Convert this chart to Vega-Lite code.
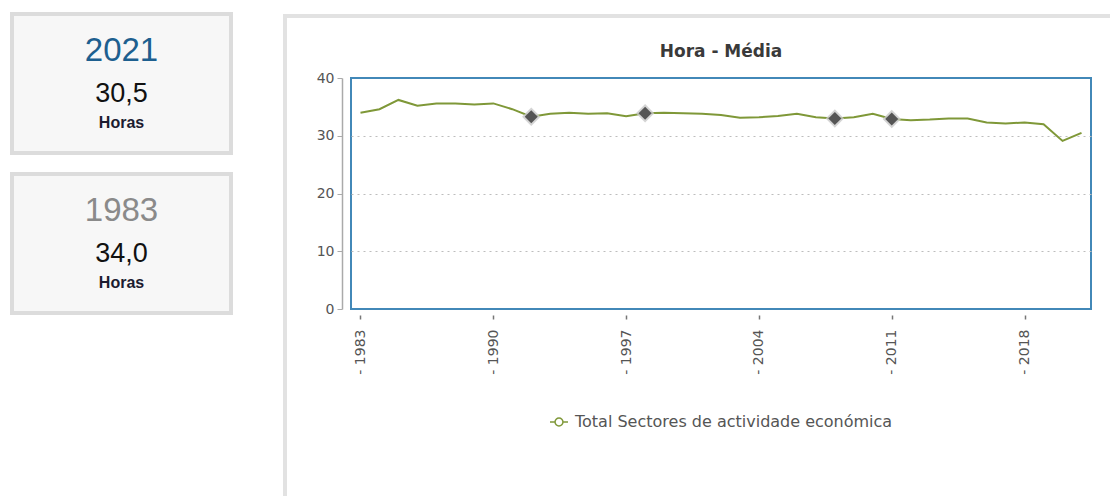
{
  "$schema": "https://vega.github.io/schema/vega-lite/v6.json",
  "padding": {"left": 10, "top": 12, "right": 0, "bottom": 0},
  "background": "white",
  "spacing": 50,
  "config": {"view": {"stroke": null}, "legend": {"layout": {"bottom": {"anchor": "middle"}}}},
  "resolve": {"scale": {"color": "independent"}, "legend": {"color": "independent"}},
  "hconcat": [
    {
      "spacing": 17,
      "vconcat": [
        {
          "width": 219, "height": 139,
          "view": {"fill": "#f7f7f7", "stroke": "#dcdcdc", "strokeWidth": 4},
          "data": {"values": [
            {"papel": "ano", "texto": "2021"},
            {"papel": "valor", "texto": "30,5"},
            {"papel": "unidade", "texto": "Horas"}
          ]},
          "encoding": {
            "y": {"field": "papel", "type": "nominal", "scale": {"type": "point", "domain": ["ano", "e1", "e2", "valor", "e3", "unidade"], "range": [37, 109], "padding": 0}, "axis": null},
            "text": {"field": "texto"}
          },
          "layer": [
            {"transform": [{"filter": "datum.papel === 'ano'"}], "mark": {"type": "text", "font": "Liberation Sans", "fontSize": 33, "color": "#1d5f8f", "baseline": "middle", "align": "center"}},
            {"transform": [{"filter": "datum.papel === 'valor'"}], "mark": {"type": "text", "font": "Liberation Sans", "fontSize": 27, "color": "#111111", "baseline": "middle", "align": "center"}},
            {"transform": [{"filter": "datum.papel === 'unidade'"}], "mark": {"type": "text", "font": "Liberation Sans", "fontSize": 16, "fontWeight": "bold", "color": "#1c1c30", "baseline": "middle", "align": "center"}}
          ]
        },
        {
          "width": 219, "height": 139,
          "view": {"fill": "#f7f7f7", "stroke": "#dcdcdc", "strokeWidth": 4},
          "data": {"values": [
            {"papel": "ano", "texto": "1983"},
            {"papel": "valor", "texto": "34,0"},
            {"papel": "unidade", "texto": "Horas"}
          ]},
          "encoding": {
            "y": {"field": "papel", "type": "nominal", "scale": {"type": "point", "domain": ["ano", "e1", "e2", "valor", "e3", "unidade"], "range": [37, 109], "padding": 0}, "axis": null},
            "text": {"field": "texto"}
          },
          "layer": [
            {"transform": [{"filter": "datum.papel === 'ano'"}], "mark": {"type": "text", "font": "Liberation Sans", "fontSize": 33, "color": "#8a8a8a", "baseline": "middle", "align": "center"}},
            {"transform": [{"filter": "datum.papel === 'valor'"}], "mark": {"type": "text", "font": "Liberation Sans", "fontSize": 27, "color": "#111111", "baseline": "middle", "align": "center"}},
            {"transform": [{"filter": "datum.papel === 'unidade'"}], "mark": {"type": "text", "font": "Liberation Sans", "fontSize": 16, "fontWeight": "bold", "color": "#1c1c30", "baseline": "middle", "align": "center"}}
          ]
        }
      ]
    },
    {
      "spacing": 0,
      "resolve": {"scale": {"color": "independent"}, "legend": {"color": "independent"}},
      "hconcat": [
        {
          "width": 4, "height": 484,
          "view": {"fill": "#e2e2e2", "stroke": null},
          "data": {"values": []},
          "mark": "point"
        },
        {
          "spacing": 24,
          "resolve": {"scale": {"color": "independent"}, "legend": {"color": "independent"}},
          "vconcat": [
            {
              "width": 823, "height": 4,
              "view": {"fill": "#e2e2e2", "stroke": null},
              "data": {"values": []},
              "mark": "point"
            },
            {
              "spacing": 0,
              "resolve": {"scale": {"color": "independent"}, "legend": {"color": "independent"}},
              "hconcat": [
                {
                  "width": 28, "height": 10,
                  "data": {"values": []},
                  "mark": "point"
                },
                {
                  "width": 740, "height": 231,
                  "title": {"text": "Hora - Média", "font": "DejaVu Sans", "fontSize": 17, "fontWeight": "bold", "color": "#3a3a3a", "offset": 10},
                  "view": {"stroke": "#4288b8", "strokeWidth": 2},
                  "data": {"values": [
                    {"ano": 1983, "horas": 34.0, "serie": "Total Sectores de actividade económica", "quebra": false},
                    {"ano": 1984, "horas": 34.6, "serie": "Total Sectores de actividade económica", "quebra": false},
                    {"ano": 1985, "horas": 36.2, "serie": "Total Sectores de actividade económica", "quebra": false},
                    {"ano": 1986, "horas": 35.2, "serie": "Total Sectores de actividade económica", "quebra": false},
                    {"ano": 1987, "horas": 35.6, "serie": "Total Sectores de actividade económica", "quebra": false},
                    {"ano": 1988, "horas": 35.6, "serie": "Total Sectores de actividade económica", "quebra": false},
                    {"ano": 1989, "horas": 35.4, "serie": "Total Sectores de actividade económica", "quebra": false},
                    {"ano": 1990, "horas": 35.6, "serie": "Total Sectores de actividade económica", "quebra": false},
                    {"ano": 1991, "horas": 34.6, "serie": "Total Sectores de actividade económica", "quebra": false},
                    {"ano": 1992, "horas": 33.3, "serie": "Total Sectores de actividade económica", "quebra": true},
                    {"ano": 1993, "horas": 33.8, "serie": "Total Sectores de actividade económica", "quebra": false},
                    {"ano": 1994, "horas": 34.0, "serie": "Total Sectores de actividade económica", "quebra": false},
                    {"ano": 1995, "horas": 33.8, "serie": "Total Sectores de actividade económica", "quebra": false},
                    {"ano": 1996, "horas": 33.9, "serie": "Total Sectores de actividade económica", "quebra": false},
                    {"ano": 1997, "horas": 33.4, "serie": "Total Sectores de actividade económica", "quebra": false},
                    {"ano": 1998, "horas": 33.9, "serie": "Total Sectores de actividade económica", "quebra": true},
                    {"ano": 1999, "horas": 34.0, "serie": "Total Sectores de actividade económica", "quebra": false},
                    {"ano": 2000, "horas": 33.9, "serie": "Total Sectores de actividade económica", "quebra": false},
                    {"ano": 2001, "horas": 33.8, "serie": "Total Sectores de actividade económica", "quebra": false},
                    {"ano": 2002, "horas": 33.6, "serie": "Total Sectores de actividade económica", "quebra": false},
                    {"ano": 2003, "horas": 33.1, "serie": "Total Sectores de actividade económica", "quebra": false},
                    {"ano": 2004, "horas": 33.2, "serie": "Total Sectores de actividade económica", "quebra": false},
                    {"ano": 2005, "horas": 33.4, "serie": "Total Sectores de actividade económica", "quebra": false},
                    {"ano": 2006, "horas": 33.8, "serie": "Total Sectores de actividade económica", "quebra": false},
                    {"ano": 2007, "horas": 33.2, "serie": "Total Sectores de actividade económica", "quebra": false},
                    {"ano": 2008, "horas": 33.0, "serie": "Total Sectores de actividade económica", "quebra": true},
                    {"ano": 2009, "horas": 33.2, "serie": "Total Sectores de actividade económica", "quebra": false},
                    {"ano": 2010, "horas": 33.8, "serie": "Total Sectores de actividade económica", "quebra": false},
                    {"ano": 2011, "horas": 32.9, "serie": "Total Sectores de actividade económica", "quebra": true},
                    {"ano": 2012, "horas": 32.7, "serie": "Total Sectores de actividade económica", "quebra": false},
                    {"ano": 2013, "horas": 32.8, "serie": "Total Sectores de actividade económica", "quebra": false},
                    {"ano": 2014, "horas": 33.0, "serie": "Total Sectores de actividade económica", "quebra": false},
                    {"ano": 2015, "horas": 33.0, "serie": "Total Sectores de actividade económica", "quebra": false},
                    {"ano": 2016, "horas": 32.3, "serie": "Total Sectores de actividade económica", "quebra": false},
                    {"ano": 2017, "horas": 32.1, "serie": "Total Sectores de actividade económica", "quebra": false},
                    {"ano": 2018, "horas": 32.3, "serie": "Total Sectores de actividade económica", "quebra": false},
                    {"ano": 2019, "horas": 32.0, "serie": "Total Sectores de actividade económica", "quebra": false},
                    {"ano": 2020, "horas": 29.1, "serie": "Total Sectores de actividade económica", "quebra": false},
                    {"ano": 2021, "horas": 30.5, "serie": "Total Sectores de actividade económica", "quebra": false}
                  ]},
                  "encoding": {
                    "x": {
                      "field": "ano", "type": "ordinal",
                      "scale": {"type": "point", "padding": 0.5},
                      "axis": {
                        "values": [1983, 1990, 1997, 2004, 2011, 2018],
                        "labelExpr": "'-  ' + datum.label",
                        "labelAngle": 270,
                        "domain": false,
                        "ticks": true, "tickSize": 4, "tickColor": "#777", "tickWidth": 1.5,
                        "offset": 6, "labelPadding": 10,
                        "labelFont": "DejaVu Sans", "labelFontSize": 14, "labelColor": "#555",
                        "title": null, "grid": false
                      }
                    },
                    "y": {
                      "field": "horas", "type": "quantitative",
                      "scale": {"domain": [0, 40], "nice": false},
                      "axis": {
                        "values": [0, 10, 20, 30, 40],
                        "offset": 9,
                        "domain": true, "domainColor": "#aaaaaa", "domainWidth": 1.5,
                        "ticks": true, "tickColor": "#aaaaaa", "tickSize": 5,
                        "labelPadding": 3,
                        "labelFont": "DejaVu Sans", "labelFontSize": 14, "labelColor": "#555",
                        "title": null,
                        "grid": true, "gridDash": [2, 4],
                        "gridColor": {"condition": {"test": "datum.value === 0 || datum.value === 40", "value": "transparent"}, "value": "#bdbdbd"}
                      }
                    }
                  },
                  "layer": [
                    {
                      "mark": {"type": "line", "strokeWidth": 2},
                      "encoding": {
                        "color": {
                          "field": "serie", "type": "nominal",
                          "scale": {"range": ["#7f9838"]},
                          "legend": {
                            "orient": "bottom", "direction": "horizontal", "title": null,
                            "offset": 33,
                            "symbolType": "M-1,0L-0.44,0M0.44,0L1,0M-0.44,0A0.44,0.44,0,1,0,0.44,0A0.44,0.44,0,1,0,-0.44,0Z",
                            "symbolSize": 324, "symbolFillColor": "white", "symbolStrokeColor": "#9aab6a", "symbolStrokeWidth": 1.5,
                            "labelFont": "DejaVu Sans", "labelFontSize": 16, "labelColor": "#555", "labelLimit": 600, "labelOffset": 6
                          }
                        }
                      }
                    },
                    {
                      "transform": [{"filter": "datum.quebra"}],
                      "mark": {"type": "point", "shape": "diamond", "filled": true, "size": 340, "color": "#c9c9c9", "opacity": 0.8}
                    },
                    {
                      "transform": [{"filter": "datum.quebra"}],
                      "mark": {"type": "point", "shape": "diamond", "filled": true, "size": 170, "color": "#555555", "opacity": 1}
                    }
                  ]
                }
              ]
            }
          ]
        }
      ]
    }
  ]
}
